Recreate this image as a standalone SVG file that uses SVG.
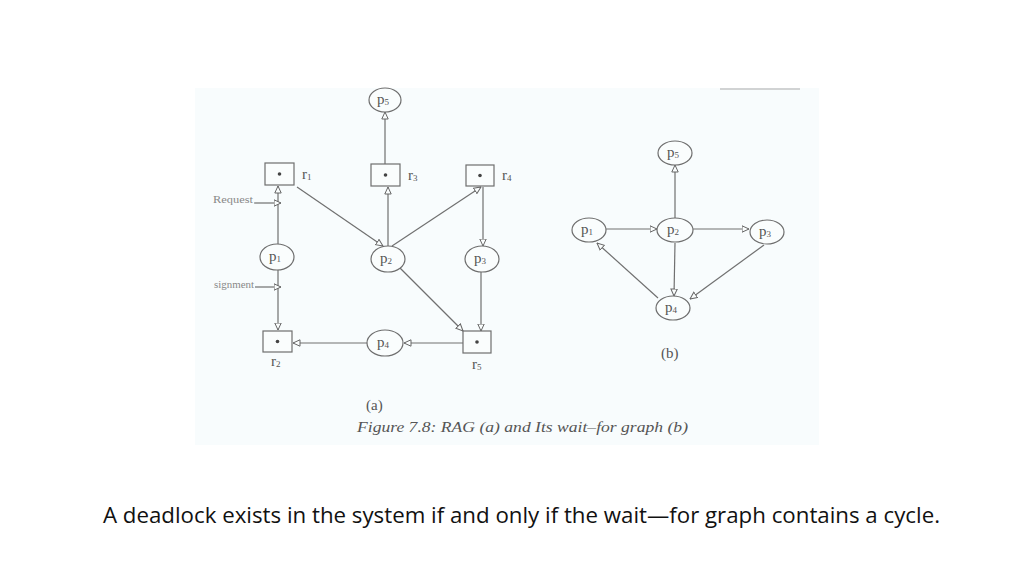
<svg xmlns="http://www.w3.org/2000/svg" width="1024" height="576" viewBox="0 0 1024 576">
<defs>
<style>
.bg{fill:#f8fcfd}
.nd{fill:#fafdfd;stroke:#6e6e6e;stroke-width:1.2}
.dot{fill:#444}
.e{stroke:#707070;stroke-width:1.2;fill:none;marker-end:url(#ah)}
.t{font-family:"Liberation Serif",serif;fill:#555;font-size:15px}
.s{font-size:9px}
.sm{font-family:"Liberation Serif",serif;fill:#888;font-size:10px}
.cap{font-family:"Liberation Serif",serif;font-style:italic;fill:#555;font-size:15px}
.main{font-family:"Open Sans","Liberation Sans",sans-serif;fill:#111;font-size:21px}
</style>
<marker id="ah" viewBox="0 0 8 8" refX="7.5" refY="4" markerWidth="8" markerHeight="8" markerUnits="userSpaceOnUse" orient="auto">
<path d="M0.5,0.8 L7.5,4 L0.5,7.2 z" fill="#fafdfd" stroke="#666" stroke-width="1"/>
</marker>
</defs>
<rect width="1024" height="576" fill="#ffffff"/>
<rect class="bg" x="195" y="88" width="624" height="357"/>
<line x1="720" y1="89" x2="800" y2="89" stroke="#aaa" stroke-width="1"/>

<g id="connectors">
<!-- (a) -->
<line class="e" x1="385" y1="164" x2="385" y2="112"/>
<line class="e" x1="278" y1="244" x2="278" y2="186"/>
<line class="e" x1="254" y1="203" x2="281" y2="203"/>
<line class="e" x1="297" y1="187" x2="383" y2="246"/>
<line class="e" x1="388" y1="246" x2="388" y2="187"/>
<line class="e" x1="392" y1="246" x2="481" y2="187"/>
<line class="e" x1="483" y1="187" x2="483" y2="246"/>
<line class="e" x1="278" y1="270" x2="278" y2="330"/>
<line class="e" x1="255" y1="287" x2="281" y2="287"/>
<line class="e" x1="400" y1="268" x2="463" y2="331"/>
<line class="e" x1="481" y1="272" x2="481" y2="331"/>
<line class="e" x1="463" y1="343" x2="404" y2="343"/>
<line class="e" x1="367" y1="343" x2="293" y2="343"/>
<!-- (b) -->
<line class="e" x1="675" y1="218" x2="675" y2="165"/>
<line class="e" x1="606" y1="229" x2="657" y2="229"/>
<line class="e" x1="693" y1="229" x2="749" y2="229"/>
<line class="e" x1="675" y1="243" x2="674" y2="296"/>
<line class="e" x1="764" y1="245" x2="690" y2="299"/>
<line class="e" x1="658" y1="298" x2="597" y2="243"/>
</g>

<g id="a-p5"><ellipse class="nd" cx="385" cy="100" rx="16" ry="12"/><text class="t" x="377" y="104">p<tspan class="s" dy="1">5</tspan></text></g>
<g id="a-r1"><rect class="nd" x="265" y="163" width="29" height="22"/><circle class="dot" cx="279.5" cy="174" r="1.8"/><text class="t" x="302" y="179">r<tspan class="s" dy="1">1</tspan></text></g>
<g id="a-r3"><rect class="nd" x="371" y="164" width="29" height="22"/><circle class="dot" cx="385.5" cy="175" r="1.8"/><text class="t" x="408" y="180">r<tspan class="s" dy="1">3</tspan></text></g>
<g id="a-r4"><rect class="nd" x="466" y="165" width="28" height="21"/><circle class="dot" cx="480" cy="175.5" r="1.8"/><text class="t" x="502" y="180">r<tspan class="s" dy="1">4</tspan></text></g>
<g id="a-request"><text class="sm" x="213" y="203" textLength="40" lengthAdjust="spacingAndGlyphs">Request</text></g>
<g id="a-p1"><ellipse class="nd" cx="277" cy="257" rx="17" ry="13"/><text class="t" x="269" y="261">p<tspan class="s" dy="1">1</tspan></text></g>
<g id="a-p2"><ellipse class="nd" cx="388" cy="259" rx="17" ry="13"/><text class="t" x="380" y="263">p<tspan class="s" dy="1">2</tspan></text></g>
<g id="a-p3"><ellipse class="nd" cx="482" cy="259" rx="17" ry="13"/><text class="t" x="474" y="263">p<tspan class="s" dy="1">3</tspan></text></g>
<g id="a-assignment"><text class="sm" x="214" y="288" textLength="40" lengthAdjust="spacingAndGlyphs">signment</text></g>
<g id="a-r2"><rect class="nd" x="263" y="331" width="29" height="21"/><circle class="dot" cx="277.5" cy="341.5" r="1.8"/><text class="t" x="271" y="366">r<tspan class="s" dy="1">2</tspan></text></g>
<g id="a-p4"><ellipse class="nd" cx="385" cy="343" rx="18" ry="13"/><text class="t" x="377" y="347">p<tspan class="s" dy="1">4</tspan></text></g>
<g id="a-r5"><rect class="nd" x="463" y="331" width="28" height="22"/><circle class="dot" cx="477" cy="342" r="1.8"/><text class="t" x="472" y="369">r<tspan class="s" dy="1">5</tspan></text></g>
<g id="a-label"><text class="t" x="366" y="410">(a)</text></g>
<g id="caption"><text class="cap" x="357" y="432" textLength="331" lengthAdjust="spacingAndGlyphs">Figure 7.8: RAG (a) and Its wait–for graph (b)</text></g>

<g id="b-p5"><ellipse class="nd" cx="675" cy="153" rx="17" ry="12"/><text class="t" x="667" y="157">p<tspan class="s" dy="1">5</tspan></text></g>
<g id="b-p1"><ellipse class="nd" cx="589" cy="230" rx="17" ry="12"/><text class="t" x="581" y="234">p<tspan class="s" dy="1">1</tspan></text></g>
<g id="b-p2"><ellipse class="nd" cx="675" cy="230" rx="18" ry="12"/><text class="t" x="667" y="234">p<tspan class="s" dy="1">2</tspan></text></g>
<g id="b-p3"><ellipse class="nd" cx="767" cy="232" rx="17" ry="12"/><text class="t" x="759" y="236">p<tspan class="s" dy="1">3</tspan></text></g>
<g id="b-p4"><ellipse class="nd" cx="673" cy="308" rx="17" ry="12"/><text class="t" x="665" y="312">p<tspan class="s" dy="1">4</tspan></text></g>
<g id="b-label"><text class="t" x="661" y="358">(b)</text></g>

<g id="statement"><text class="main" x="103" y="523" textLength="837" lengthAdjust="spacingAndGlyphs">A deadlock exists in the system if and only if the wait—for graph contains a cycle.</text></g>
</svg>
